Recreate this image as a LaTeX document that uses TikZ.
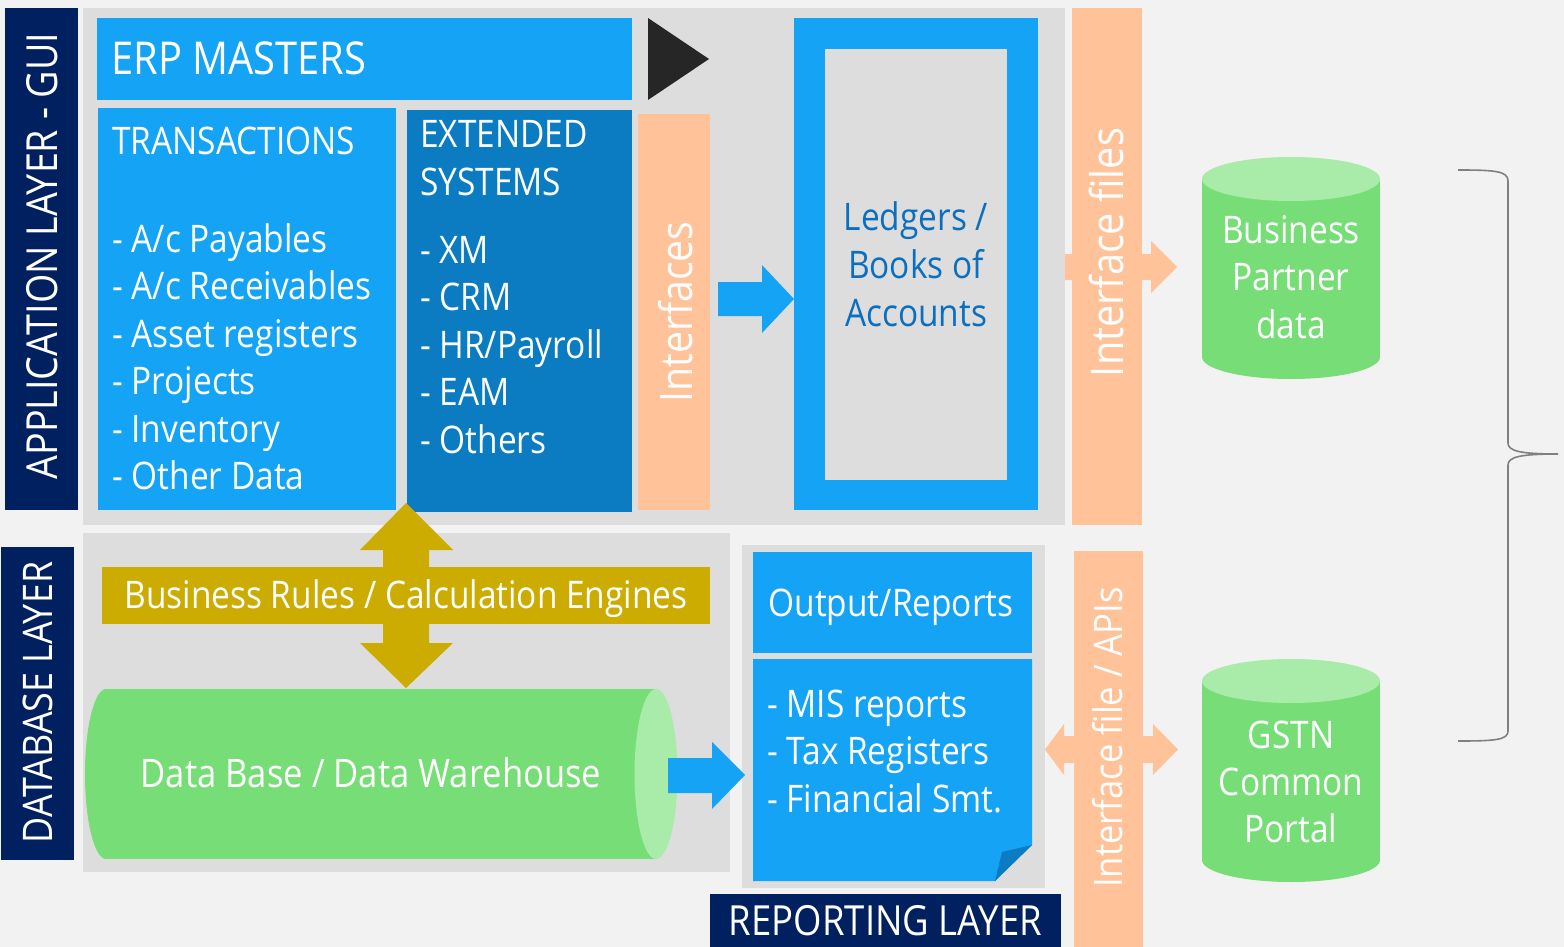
\documentclass[tikz,border=0pt]{standalone}
\usepackage{fontspec}
\setmainfont{Open Sans}[FakeStretch=0.88]

\definecolor{canvas}{HTML}{F2F2F2}
\definecolor{panel}{HTML}{DDDDDD}
\definecolor{navy}{HTML}{002060}
\definecolor{sky}{HTML}{14A3F5}
\definecolor{deep}{HTML}{0B7CC1}
\definecolor{ledgerblue}{HTML}{0B6FC0}
\definecolor{peach}{HTML}{FFC299}
\definecolor{gold}{HTML}{CCAC00}
\definecolor{ink}{HTML}{262626}
\definecolor{dbgreen}{HTML}{77DE77}
\definecolor{dblight}{HTML}{A9EBA9}
\definecolor{bracegray}{HTML}{808080}

\tikzset{
  lbl/.style={text=white, inner sep=0pt, font=\fontsize{38}{38}\selectfont},
  big/.style={font=\fontsize{#1}{#1}\selectfont},
  vlbl/.style={lbl, rotate=90, anchor=base, big=#1},
}

\begin{document}
\begin{tikzpicture}[x=1pt,y=-1pt]
\fill[canvas] (0,0) rectangle (1564,947);
\useasboundingbox (0,0) rectangle (1564,947);

% layer panels
\fill[panel] (83,8) rectangle (1065,525);
\fill[panel] (83,533) rectangle (730,872);
\fill[panel] (742,545) rectangle (1045,888);

% layer captions
\fill[navy] (5,8) rectangle (78,510);
\fill[navy] (1,547) rectangle (74,860);
\fill[navy] (710,894) rectangle (1061,947);

% application layer blocks
\fill[sky] (97,18) rectangle (632,100);
\fill[sky] (98,108) rectangle (396,510);
\fill[deep] (407,110) rectangle (632,512);
\fill[peach] (638,114) rectangle (710,510);
\fill[ink] (648,18) -- (709,59) -- (648,100) -- cycle;

% ledgers frame
\fill[sky] (794,18) rectangle (1038,510);
\fill[panel] (825,49) rectangle (1007,480);

% interfaces -> ledgers
\fill[sky] (718,282) -- (762,282) -- (762,265) -- (794,299) -- (762,333) -- (762,316) -- (718,316) -- cycle;

% interface bars and their arrows
\fill[peach] (1072,8) rectangle (1142,525);
\fill[peach] (1065,254) -- (1151,254) -- (1151,241) -- (1177,267) -- (1151,293) -- (1151,280) -- (1065,280) -- cycle;
\fill[peach] (1074,551) rectangle (1143,947);
\fill[peach] (1045,749.5) -- (1064,724) -- (1064,736) -- (1153,736) -- (1153,724) -- (1178,749.5)
  -- (1153,775) -- (1153,763) -- (1064,763) -- (1064,775) -- cycle;

% business rules with two-way arrow
\fill[gold] (406,503) -- (453,550) -- (429,550) -- (429,643) -- (453,643) -- (406,688)
  -- (360,643) -- (383,643) -- (383,550) -- (360,550) -- cycle;
\fill[gold] (102,567) rectangle (710,624);

% data base cylinder
\fill[dbgreen] (106,689) rectangle (656,859);
\fill[dbgreen] (106,774) ellipse [x radius=21, y radius=85];
\fill[dblight] (656,774) ellipse [x radius=21.5, y radius=85];

% data base -> reports
\fill[sky] (668,758) -- (712,758) -- (712,742) -- (745,775) -- (712,809) -- (712,793) -- (668,793) -- cycle;

% reporting layer sheets
\fill[sky] (753,552) rectangle (1032,653);
\fill[sky] (753,659) -- (1032,659) -- (1032,845) -- (995,881) -- (753,881) -- cycle;
\fill[deep] (995,881) -- (1002,852) -- (1032,845) -- cycle;

% external data stores
\fill[dbgreen] (1202,179) rectangle (1380,357);
\fill[dbgreen] (1291,357) ellipse [x radius=89, y radius=22];
\fill[dblight] (1291,179) ellipse [x radius=89, y radius=22];
\fill[dbgreen] (1202,681) rectangle (1380,860);
\fill[dbgreen] (1291,860) ellipse [x radius=89, y radius=22];
\fill[dblight] (1291,681) ellipse [x radius=89, y radius=22];

% grouping brace
\coordinate (bt) at (1458,170);
\coordinate (bm) at (1558,454);
\coordinate (bb) at (1458,741);
\draw[bracegray, line width=1.6pt]
  (bt) .. controls (1495,170) and (1508,171) .. (1508,181) -- (1508,443)
  .. controls (1508,451) and (1520,454) .. (bm)
  .. controls (1520,454) and (1508,457) .. (1508,465) -- (1508,731)
  .. controls (1508,740) and (1495,741) .. (bb);

% ---- texts ----
\node[vlbl=42.8] (applbl) at (57,256) {APPLICATION LAYER - GUI};
\node[vlbl=40.8] (dblbl) at (52,702.5) {DATABASE LAYER};
\node[lbl, big=41.5, anchor=base] (replbl) at (885.5,935) {REPORTING LAYER};

\node[lbl, big=45.3, anchor=base west] (erp) at (111,75) {ERP MASTERS};

\node[lbl, anchor=base west] (trans) at (112,155) {TRANSACTIONS};
\foreach \t [count=\i] in {A/c Payables, A/c Receivables, Asset registers, Projects, Inventory, Other Data}
  \node[lbl, anchor=base west] (tr\i) at (112,{252+47.5*(\i-1)}) {- \t};

\node[lbl, anchor=base west] (ext1) at (420,148) {EXTENDED};
\node[lbl, anchor=base west] (ext2) at (420,196) {SYSTEMS};
\foreach \t [count=\i] in {XM, CRM, HR/Payroll, EAM, Others}
  \node[lbl, anchor=base west] (ex\i) at (420,{263.5+47.4*(\i-1)}) {- \t};

\node[vlbl=44.5] (intf) at (692,312) {Interfaces};

\foreach \t [count=\i] in {Ledgers /, Books of, Accounts}
  \node[lbl, text=ledgerblue, anchor=base] (led\i) at (916,{230+48*(\i-1)}) {\t};

\node[vlbl=45] (ifiles) at (1123,252.5) {Interface files};
\node[vlbl=39.3] (iapi) at (1122,737.5) {Interface file / APIs};

\foreach \t [count=\i] in {Business, Partner, data}
  \node[lbl, anchor=base] (bp\i) at (1291,{243+47.5*(\i-1)}) {\t};
\foreach \t [count=\i] in {GSTN, Common, Portal}
  \node[lbl, anchor=base] (gs\i) at (1291,{748+47*(\i-1)}) {\t};

\node[lbl, anchor=base] (rules) at (406,608) {Business Rules / Calculation Engines};
\node[lbl, big=39.3, anchor=base] (dw) at (371,787) {Data Base / Data Warehouse};

\node[lbl, anchor=base] (outrep) at (891,616) {Output/Reports};
\foreach \t [count=\i] in {MIS reports, Tax Registers, Financial Smt.}
  \node[lbl, anchor=base west] (rp\i) at (767,{717+47.8*(\i-1)}) {- \t};
\end{tikzpicture}
\end{document}
